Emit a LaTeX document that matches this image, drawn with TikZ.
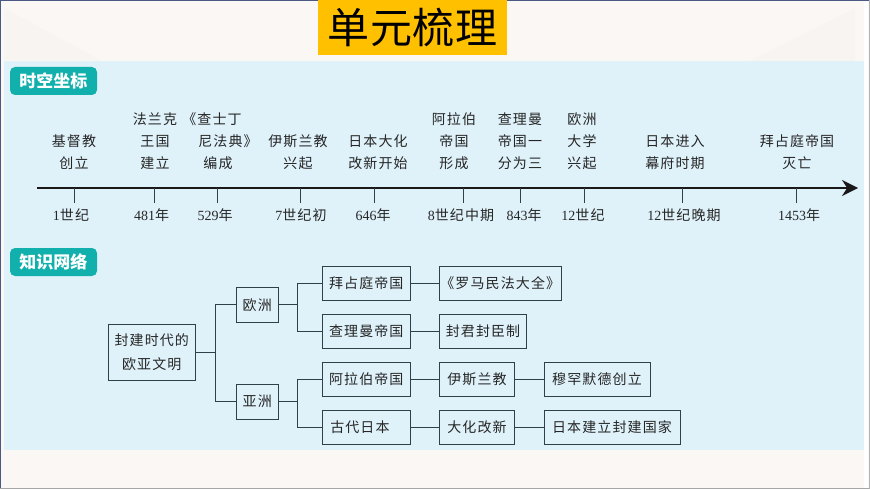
\documentclass[tikz,border=0pt]{standalone}
\usepackage{fontspec}
\setmainfont{Noto Sans CJK SC}[LetterSpace=8]
\newfontfamily\numfont{Liberation Serif}
\newcommand{\yr}[1]{{\numfont #1}}
\usetikzlibrary{arrows.meta,positioning,calc}
\definecolor{panelblue}{HTML}{DFF2FA}
\definecolor{paperwhite}{HTML}{FBF7F5}
\definecolor{papershade}{HTML}{F8F4F2}
\definecolor{titlegold}{HTML}{FFC000}
\definecolor{badgeteal}{HTML}{12B0AC}
\definecolor{boxline}{HTML}{2F4148}
\definecolor{inkgray}{HTML}{262626}
\definecolor{pageedge}{HTML}{4A5A85}
\begin{document}
\begin{tikzpicture}[x=1pt,y=-1pt,node distance=29.5pt]
  \tikzstyle{badge}=[fill=badgeteal,rounded corners=5pt,text=white,font=\fontsize{17}{18}\selectfont\bfseries\addfontfeature{LetterSpace=0},
                     minimum width=87pt,minimum height=28pt,inner sep=0pt]
  \tikzstyle{event}=[text=inkgray,font=\fontsize{14}{22}\selectfont,align=center,inner sep=0pt,anchor=base]
  \tikzstyle{date}=[text=inkgray,font=\fontsize{14}{15}\selectfont,inner sep=0pt,anchor=base]
  \tikzstyle{item}=[draw=boxline,line width=1pt,text=inkgray,font=\fontsize{14}{24}\selectfont,align=center,
                    minimum height=34.5pt,inner sep=0pt,outer sep=0pt]
  \tikzstyle{link}=[draw=boxline,line width=1pt]

  \useasboundingbox (0,0) rectangle (870,489);

  % page and panel
  \fill[paperwhite] (0,0) rectangle (870,489);
  \fill[papershade] (4,8) -- (100,60) -- (4,60) -- cycle;
  \fill[papershade] (750,61) -- (855,8) -- (855,61) -- cycle;
  \fill[panelblue] (4,61) rectangle (864,450);
  \fill[white] (864,2) rectangle (868,489);
  \draw[color=pageedge,line width=1.5pt] (0,489) -- (0,0) -- (870,0);
  \draw[color=black!35,line width=1pt] (0,488.5) -- (870,488.5);
  \draw[color=black!30,line width=1pt] (869.5,0) -- (869.5,489);

  % title
  \node[fill=titlegold,minimum width=189pt,minimum height=55pt,inner sep=0pt] (title) at (412.5,27.5)
       {\raisebox{4pt}{\fontsize{42}{44}\selectfont\addfontfeature{LetterSpace=2}单元梳理}};

  % time line
  \node[badge] (tbadge) at (53.5,81) {时空坐标};
  \coordinate (tstart) at (37,188);
  \coordinate (tend) at (858,188);
  \draw[-{Stealth[length=16pt,width=16pt]},line width=2pt,color=black!90] (tstart) -- (tend);
  \foreach \tx/\dx/\dtext in {74/71/\yr{1}世纪, 154/151.5/\yr{481}年, 217/215/\yr{529}年,
      300/301/\yr{7}世纪初, 374/373/\yr{646}年, 463/461/\yr{8}世纪中期, 520/524/\yr{843}年,
      584/583/\yr{12}世纪, 682/684/\yr{12}世纪晚期, 796/799/\yr{1453}年}
    {
      \coordinate (tick\tx) at (\tx,188);
      \node[date] (date\tx) at (\dx,221) {\dtext};
      \draw[color=boxline,line width=.8pt] (tick\tx) -- ++(0,15);
    }

  \node[event] (jidu) at (74,169) {基督教\\创立};
  \node[event] (falan) at (155,169) {法兰克\\王国\\建立};
  \node[event] (chashi) at (218,169) {\hspace*{-12pt}《查士丁\\\hspace*{20pt}尼法典》\\编成};
  \node[event] (yisi) at (298,169) {伊斯兰教\\兴起};
  \node[event] (dahua) at (378,169) {日本大化\\改新开始};
  \node[event] (alabo) at (454,169) {阿拉伯\\帝国\\形成};
  \node[event] (chali) at (520,169) {查理曼\\帝国一\\分为三};
  \node[event] (daxue) at (582,169) {欧洲\\大学\\兴起};
  \node[event] (mufu) at (675,169) {日本进入\\幕府时期};
  \node[event] (bai) at (797,169) {拜占庭帝国\\灭亡};

  % knowledge tree
  \node[badge] (kbadge) at (53.5,262) {知识网络};

  \node[item,minimum width=86.5pt,minimum height=56pt] (root) at (151.75,352) {封建时代的\\欧亚文明};
  \node[item,minimum width=41.5pt] (europe) at (257.25,304.75) {欧洲};
  \node[item,minimum width=41.5pt] (asia) at (257.25,401.75) {亚洲};

  \node[item,minimum width=87.5pt] (byz) at (366.25,283.25) {拜占庭帝国};
  \node[item,minimum width=87.5pt] (char) at (366.25,331.25) {查理曼帝国};
  \node[item,minimum width=87.5pt] (arab) at (366.25,379.25) {阿拉伯帝国};
  \node[item,minimum width=87.5pt,text width=72pt,align=left] (japan) at (366.25,427.25) {古代日本};

  \node[item,minimum width=121.5pt,right=of byz] (code) {《罗马民法大全》};
  \node[item,minimum width=87pt,right=of char] (feudal) {封君封臣制};
  \node[item,minimum width=75pt,right=of arab] (islam) {伊斯兰教};
  \node[item,minimum width=75pt,right=of japan] (taika) {大化改新};
  \node[item,minimum width=106pt,right=of islam] (muham) {穆罕默德创立};
  \node[item,minimum width=136pt,right=of taika] (state) {日本建立封建国家};

  \coordinate (rootfork) at (215,352);
  \coordinate (eufork) at (297,304.75);
  \coordinate (asfork) at (297,401.75);

  \draw[link] (root) -- (rootfork) |- (europe);
  \draw[link] (rootfork) |- (asia);
  \draw[link] (europe) -- (eufork) |- (byz);
  \draw[link] (eufork) |- (char);
  \draw[link] (asia) -- (asfork) |- (arab);
  \draw[link] (asfork) |- (japan);
  \path[link] (byz) edge (code)
              (char) edge (feudal)
              (arab) edge (islam)
              (japan) edge (taika)
              (islam) edge (muham)
              (taika) edge (state);
\end{tikzpicture}
\end{document}
